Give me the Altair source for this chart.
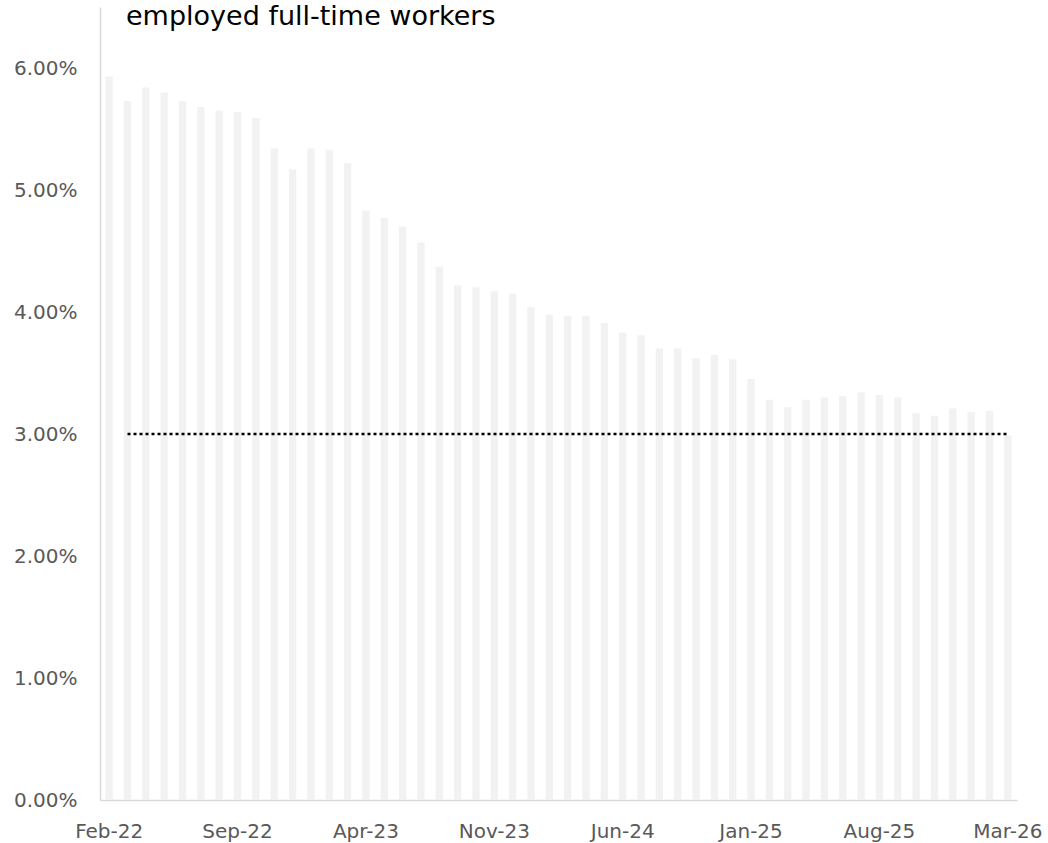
import altair as alt
import pandas as pd

months = [d.strftime("%b-%y") for d in pd.date_range("2022-02-01", "2026-03-01", freq="MS")]

rate = [
    5.93, 5.73, 5.84, 5.80, 5.73, 5.68, 5.65, 5.64, 5.59, 5.34,
    5.17, 5.34, 5.33, 5.22, 4.83, 4.77, 4.70, 4.57, 4.37, 4.22,
    4.20, 4.17, 4.15, 4.04, 3.98, 3.97, 3.97, 3.91, 3.83, 3.81,
    3.70, 3.70, 3.62, 3.65, 3.61, 3.45, 3.28, 3.22, 3.28, 3.30,
    3.31, 3.34, 3.32, 3.30, 3.17, 3.15, 3.21, 3.18, 3.19, 2.99,
]

target = [None] + [3.00] * 49

tick_months = months[::7]
y_ticks = [0, 1, 2, 3, 4, 5, 6]

title_text = "employed full-time workers"

df = pd.DataFrame({"month": months, "rate": rate, "target": target})
df_line = df.dropna(subset=["target"])

FONT = "DejaVu Sans"

x_enc = alt.X(
    "month:N",
    sort=months,
    scale=alt.Scale(domain=months, paddingInner=0.6, paddingOuter=0.3),
    axis=alt.Axis(
        title=None,
        values=tick_months,
        labelAngle=0,
        ticks=False,
        tickSize=0,
        labelPadding=21,
        labelFont=FONT,
        labelFontSize=20,
        labelColor="#595959",
        domainColor="#d9d9d9",
        domainWidth=1.5,
        grid=False,
    ),
)

y_scale = alt.Scale(domain=[0, 6.5], nice=False, zero=True)

bars = alt.Chart(df).mark_bar(color="#f2f2f2").encode(
    x=x_enc,
    y=alt.Y(
        "rate:Q",
        scale=y_scale,
        axis=alt.Axis(
            title=None,
            values=y_ticks,
            labelExpr="format(datum.value, '.2f') + '%'",
            ticks=False,
            tickSize=0,
            labelPadding=23,
            labelFont=FONT,
            labelFontSize=20,
            labelColor="#595959",
            domainColor="#d9d9d9",
            domainWidth=1.5,
            grid=False,
        ),
    ),
)

line = alt.Chart(df_line).mark_line(
    color="black", strokeDash=[3, 3], strokeWidth=2.5, strokeCap="butt"
).encode(
    x=alt.X("month:N", sort=months),
    y=alt.Y("target:Q", scale=y_scale),
)

title = alt.Chart(pd.DataFrame({"t": [title_text]})).mark_text(
    align="left", baseline="alphabetic", font=FONT, fontSize=27, color="black"
).encode(
    x=alt.value(26),
    y=alt.value(18),
    text="t:N",
)

chart = alt.layer(bars, line, title).properties(
    width=917,
    height=793,
    autosize=alt.AutoSizeParams(type="none"),
    padding={"left": 100, "top": 7, "right": 31, "bottom": 43},
    background="white",
).configure_view(stroke=None)

chart.save("out.html", embed_options={"renderer": "svg", "actions": False})
